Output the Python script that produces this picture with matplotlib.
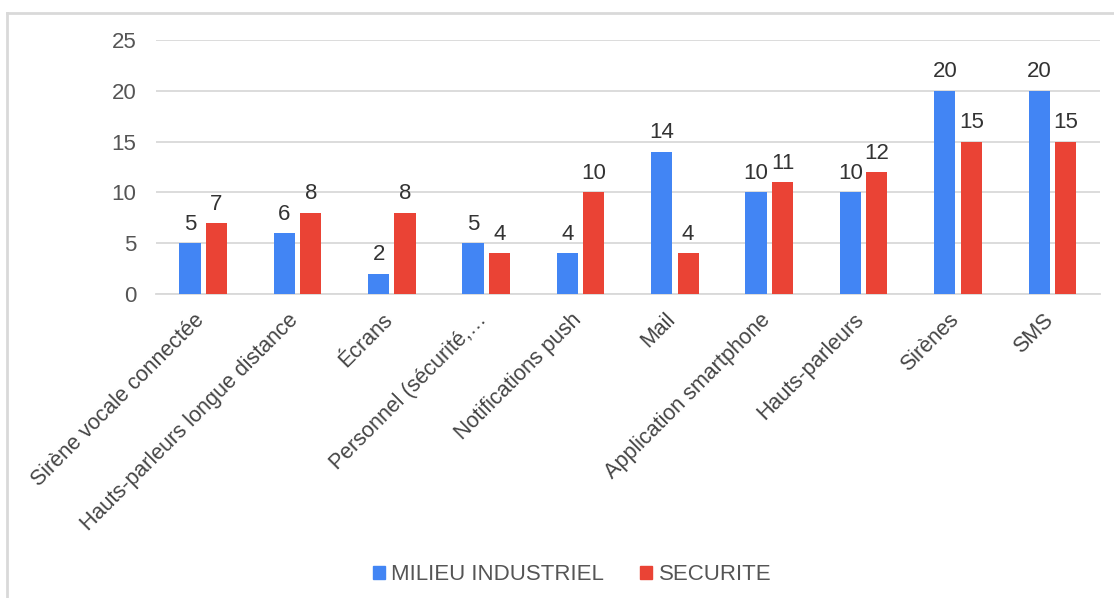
import matplotlib.pyplot as plt
import matplotlib.transforms as mtransforms
import numpy as np
from matplotlib.lines import Line2D
from matplotlib.patches import Patch

plt.rcParams['font.family'] = ['Liberation Sans', 'DejaVu Sans']

categories = [
    'Sirène vocale connectée',
    'Hauts-parleurs longue distance',
    'Écrans',
    'Personnel (sécurité,…',
    'Notifications push',
    'Mail',
    'Application smartphone',
    'Hauts-parleurs',
    'Sirènes',
    'SMS',
]
milieu_industriel = [5, 6, 2, 5, 4, 14, 10, 10, 20, 20]
securite = [7, 8, 8, 4, 10, 4, 11, 12, 15, 15]
series_names = ['MILIEU INDUSTRIEL', 'SECURITE']
y_ticks = [0, 5, 10, 15, 20, 25]

BLUE = '#4285f4'
RED = '#ea4335'
GRID = '#d9d9d9'

fig = plt.figure(figsize=(11.14, 5.98), dpi=100)
ax = fig.add_axes([0.140, 0.5084, 0.847, 0.4247])

x = np.arange(len(categories))
width = 0.225
offset = 0.14

bars_a = ax.bar(x - offset, milieu_industriel, width, color=BLUE, zorder=3)
bars_b = ax.bar(x + offset, securite, width, color=RED, zorder=3)

for bars in (bars_a, bars_b):
    for rect in bars:
        ax.annotate(f'{int(rect.get_height())}',
                    (rect.get_x() + rect.get_width() / 2, rect.get_height()),
                    xytext=(0, 6), textcoords='offset points',
                    ha='center', va='bottom', fontsize=16, color='#333333')

ax.set_xlim(-0.5, len(categories) - 0.5)
ax.set_ylim(0, 25)
ax.set_yticks(y_ticks)
ax.yaxis.grid(True, color=GRID, linewidth=1.3, zorder=0)
ax.set_axisbelow(True)
for side in ('top', 'right', 'left'):
    ax.spines[side].set_visible(False)
ax.spines['bottom'].set_color(GRID)
ax.spines['bottom'].set_linewidth(1.3)

ax.tick_params(axis='y', length=0, pad=14, labelsize=16, labelcolor='#555555')
ax.tick_params(axis='x', length=0, pad=11)
ax.set_xticks(x)
ax.set_xticklabels(categories, rotation=45, ha='right', va='top',
                   fontsize=15.5, color='#444444')
shift = mtransforms.ScaledTranslation(5 / 100, 0, fig.dpi_scale_trans)
for lbl in ax.get_xticklabels():
    lbl.set_transform(lbl.get_transform() + shift)

# chart frame (top and left edges visible in the screenshot)
fig.add_artist(Line2D([7 / 1114, 7 / 1114], [0, 1 - 13 / 598],
                      transform=fig.transFigure, color=GRID, linewidth=2))
fig.add_artist(Line2D([7 / 1114, 1], [1 - 13 / 598, 1 - 13 / 598],
                      transform=fig.transFigure, color=GRID, linewidth=2))

handles = [Patch(color=BLUE), Patch(color=RED)]
leg = fig.legend(handles, series_names, loc='center',
                 bbox_to_anchor=(572 / 1114, 1 - 575 / 598), ncol=2,
                 frameon=False, fontsize=16, handlelength=0.55, handleheight=0.55,
                 handletextpad=0.3, columnspacing=1.6)
for t in leg.get_texts():
    t.set_color('#555555')

fig.savefig('out.png', dpi=100)
